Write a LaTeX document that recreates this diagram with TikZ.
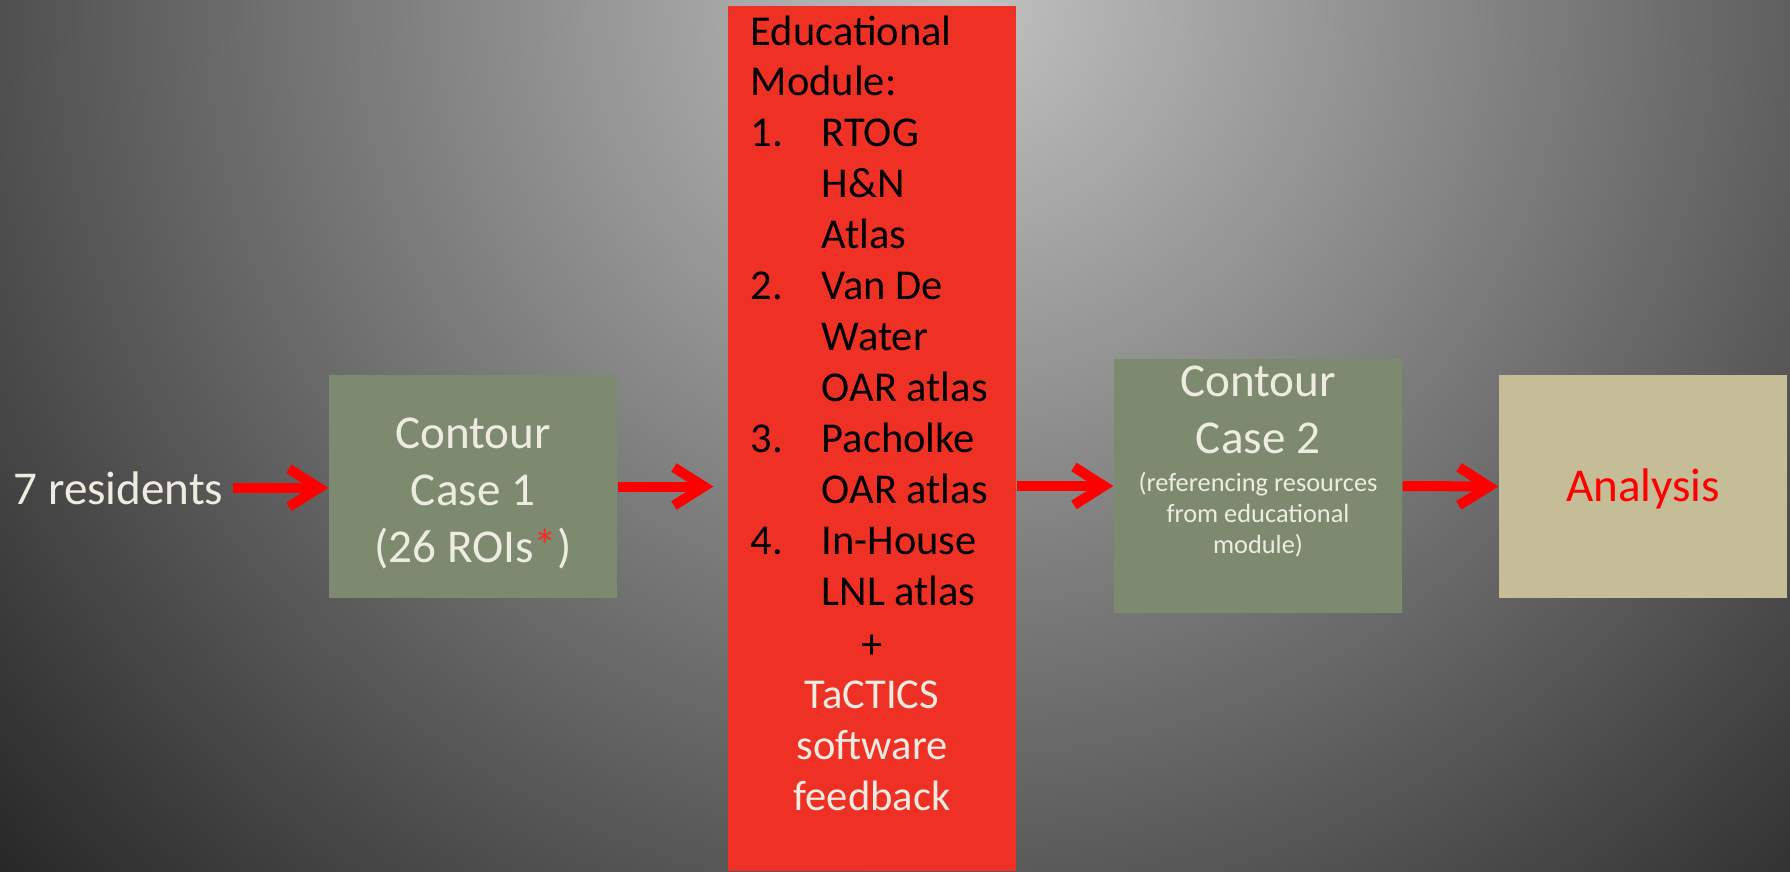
\documentclass[tikz,border=0pt]{standalone}
\usepackage{fontspec}
\setmainfont{Carlito}
\usetikzlibrary{arrows.meta}
\definecolor{boxgreen}{HTML}{7E8A6F}
\definecolor{cream}{HTML}{EEECE1}
\definecolor{modred}{HTML}{EE3124}
\definecolor{sand}{HTML}{C4BD97}
\definecolor{bglight}{gray}{0.76}
\definecolor{bgdark}{gray}{0.13}
\newcommand\casefont{\fontsize{13.4}{16.3}\selectfont}
\newcommand\listfont{\fontsize{12.1}{14.5}\selectfont}
\newcommand\notefont{\fontsize{7.5}{8.8}\selectfont}
\newcommand\modnum[1]{\makebox[0.71cm][l]{#1.}}
\newcommand\modgap{\hspace*{0.71cm}}

\begin{document}
\begin{tikzpicture}[
  box/.style={fill=boxgreen,inner sep=0pt},
  casetxt/.style={inner sep=0pt,text=cream,text width=2.8cm,align=flush center,font=\casefont},
  notetxt/.style={inner sep=0pt,text=cream,text width=2.8cm,align=flush center,font=\notefont},
  arr/.style={red,line width=0.1cm,-{Straight Barb[length=0.3cm,width=0.38cm]}},
]
  \useasboundingbox (0,0) rectangle (17.9,8.71);
  % grey backdrop, brightest at the top middle
  \begin{scope}
    \clip (0,0) rectangle (17.9,8.71);
    \shade[inner color=bglight,outer color=bgdark] (9.6,8.71) circle (13.5);
  \end{scope}

  \node[text=cream,font=\casefont,inner xsep=0.09cm,inner ysep=0pt,anchor=base west] (res) at (0.04,3.67) {7 residents};

  \node[box,minimum width=2.88cm,minimum height=2.23cm] (case1) at (4.73,3.845) {};
  \node[casetxt,anchor=base] (case1txt) at ([yshift=-0.74cm]case1.north)
    {Contour\\Case 1\\(26 ROIs{\color{modred}*})};

  % educational module column
  \node[fill=modred,inner sep=0pt,minimum width=2.88cm,minimum height=8.65cm] (module) at (8.72,4.325) {};
  \node[inner sep=0pt,text width=2.6cm,align=flush left,font=\listfont,anchor=base west] (modlist) at (7.50,8.26)
    {Educational\\Module:\\
     \modnum{1}RTOG\\\modgap H\&N\\\modgap Atlas\\
     \modnum{2}Van De\\\modgap Water\\\modgap OAR atlas\\
     \modnum{3}Pacholke\\\modgap OAR atlas\\
     \modnum{4}In-House\\\modgap LNL atlas};
  \node[inner sep=0pt,text=cream,text width=2.8cm,align=flush center,font=\listfont,anchor=base] (tactics) at (8.72,2.13)
    {{\color{black}+}\\TaCTICS\\software\\feedback};

  \node[box,minimum width=2.88cm,minimum height=2.54cm] (case2) at (12.58,3.85) {};
  \node[casetxt,anchor=base] (case2title) at ([yshift=-0.38cm]case2.north) {Contour\\Case 2};
  \node[notetxt,anchor=base] (case2note) at ([yshift=-1.33cm]case2.north)
    {(referencing resources\\from educational\\module)};

  \node[fill=sand,inner sep=0pt,minimum width=2.88cm,minimum height=2.23cm] (analysis) at (16.43,3.845) {};
  \node[text=red,font=\casefont,inner sep=0pt,anchor=base] (analysistxt) at ([yshift=-1.27cm]analysis.north) {Analysis};

  \draw[arr] (res.east) -- (res.east -| case1.west);
  \draw[arr,shorten >=0.14cm] (case1.east) -- (case1.east -| module.west);
  \draw[arr] (module.east |- case2) -- (case2.west);
  \draw[arr] (case2.east) -- (analysis.west);
\end{tikzpicture}
\end{document}
